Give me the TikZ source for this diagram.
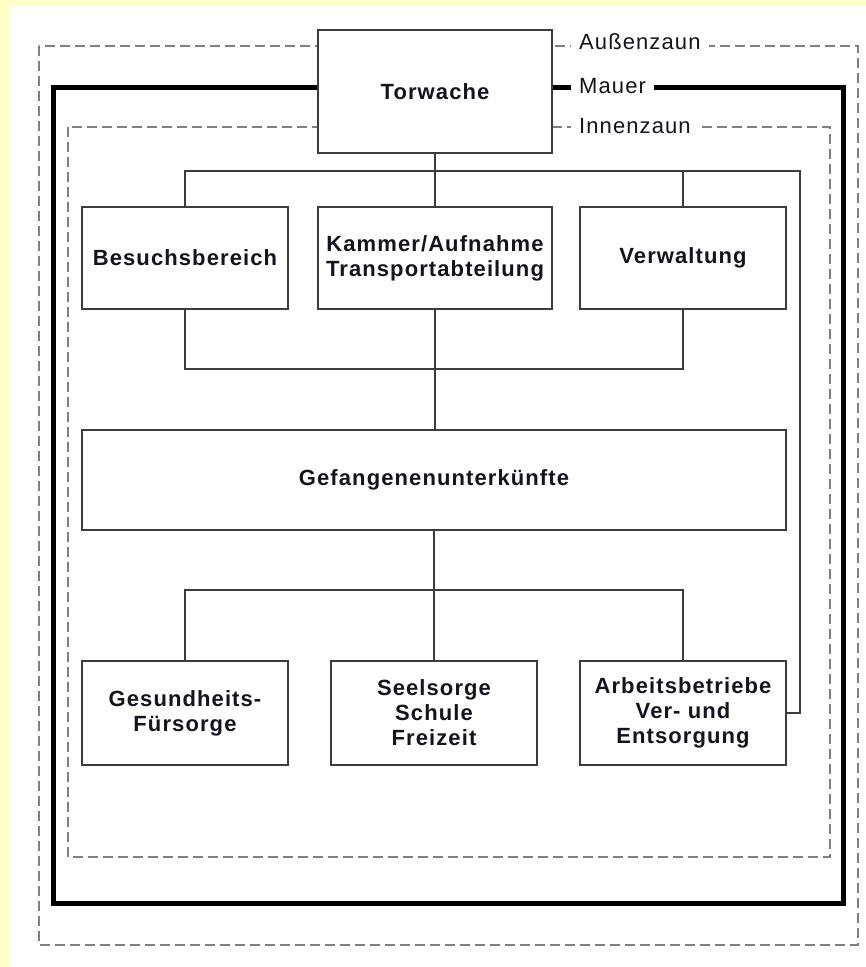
\documentclass[tikz,border=0pt]{standalone}
\usepackage{fontspec}
\setmainfont{Liberation Sans}[LetterSpace=5]
\usepackage{tikz}

\begin{document}
\begin{tikzpicture}[
        x = 1pt,
        y = -1pt,
        every node/.style = {%
            font = \fontsize{22}{25}\selectfont,
            text = textdark
        }
    ]

        \definecolor{paper}{RGB}{255,255,200}
        \definecolor{fence}{RGB}{128,128,128}
        \definecolor{boxline}{RGB}{60,60,60}
        \definecolor{textdark}{RGB}{20,20,30}

        \tikzset{%
            unit/.style = {%
                rectangle,
                draw           = boxline,
                fill           = white,
                line width     = 1.3pt,
                align          = center,
                font           = \fontsize{22}{25}\selectfont\bfseries,
                minimum width  = 206pt,
                minimum height = 102pt
            },
            fenceline/.style = {%
                draw         = fence,
                line width   = 2.6pt,
                dash pattern = on 10pt off 5pt
            },
            wall/.style = {%
                draw       = black,
                line width = 5pt
            },
            link/.style = {%
                draw       = boxline,
                line width = 1.3pt
            },
            fencelabel/.style = {%
                anchor      = west,
                fill        = white,
                inner xsep  = 8pt,
                inner ysep  = 1pt
            }
        }

        % page
        \fill[paper] (0, 0) rectangle (866, 967);
        \fill[white] (9, 6) rectangle (866, 967);
        \useasboundingbox (0, 0) rectangle (866, 967);

        % fences and wall
        \draw[fenceline] (39, 46) rectangle (858, 945);
        \draw[wall] (53, 87) rectangle (843, 903);
        \draw[fenceline] (68, 127) rectangle (830, 857);

        \node[fencelabel] (aussen) at (571, 42) {Außenzaun};
        \node[fencelabel] (mauer)  at (571, 86) {Mauer};
        \node[fencelabel] (innen)  at (571, 126) {Innenzaun};

        % units
        \node[unit, minimum width = 234pt, minimum height = 123pt] (torwache) at (435, 91.5) {Torwache};

        \node[unit] (besuch) at (185, 258) {Besuchsbereich};
        \node[unit, minimum width = 234pt] (kammer) at (435, 258) {Kammer/Aufnahme\\Transportabteilung};
        \node[unit] (verwaltung) at (683, 258) {Verwaltung};

        \node[unit, minimum width = 704pt, minimum height = 100pt] (gefangene) at (434, 480) {Gefangenenunterkünfte};

        \node[unit, minimum height = 104pt] (gesund) at (185, 713) {Gesundheits-\\Fürsorge};
        \node[unit, minimum height = 104pt] (seelsorge) at (434, 713) {Seelsorge\\Schule\\Freizeit};
        \node[unit, minimum height = 104pt] (arbeit) at (683, 713) {Arbeitsbetriebe\\Ver- und\\Entsorgung};

        % connections
        \coordinate (topbus) at (435, 171);
        \coordinate (midbus) at (435, 369);
        \coordinate (lowbus) at (434, 590);
        \coordinate (sidebus) at (800, 171);

        \draw[link] (torwache.south) -- (topbus);
        \draw[link] (besuch.north) |- (sidebus) |- (arbeit.east);
        \draw[link] (topbus) -- (kammer.north);
        \draw[link] (verwaltung.north) -- (verwaltung.north |- topbus);

        \draw[link] (besuch.south) |- (midbus) -| (verwaltung.south);
        \draw[link] (kammer.south) -- (kammer.south |- gefangene.north);

        \draw[link] (gefangene.south) -- (lowbus);
        \foreach \unitname in {gesund, seelsorge, arbeit} {
            \draw[link] (lowbus) -| (\unitname.north);
        }

    \end{tikzpicture}
\end{document}
